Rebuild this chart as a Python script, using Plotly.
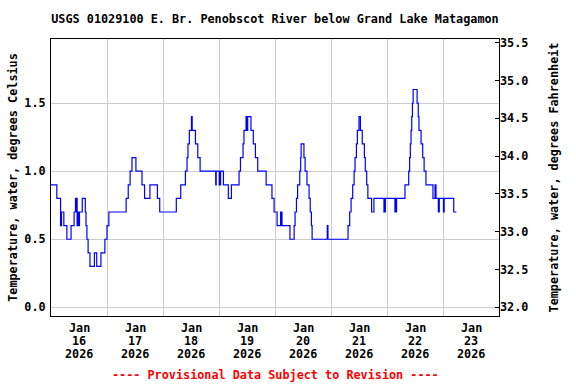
import pandas as pd
import plotly.graph_objects as go

title = "USGS 01029100 E. Br. Penobscot River below Grand Lake Matagamon"
footer = "---- Provisional Data Subject to Revision ----"
start = "2026-01-16 00:00"

# change points: hours since start, water temperature (deg C)
hours = [
    0.0, 2.5, 4.1, 4.5, 5.5, 6.8, 8.6, 9.9, 10.5, 10.8, 11.0, 11.2, 11.6, 11.9, 12.2,
    13.4, 14.7, 15.0, 15.4, 15.9, 16.7, 18.6, 19.6, 21.4, 23.1, 24.0, 24.8, 32.2, 33.1,
    33.9, 34.7, 36.4, 39.0, 40.1, 42.4, 45.6, 46.6, 53.7, 55.6, 57.6, 58.3, 58.7, 59.3,
    60.2, 60.5, 61.9, 62.9, 63.9, 70.6, 70.8, 72.1, 72.3, 72.5, 72.7, 73.9, 76.0, 77.3,
    80.6, 81.2, 82.3, 82.7, 83.6, 83.9, 84.3, 85.7, 86.7, 87.6, 88.6, 92.2, 94.7, 95.6,
    96.9, 98.4, 98.6, 98.9, 99.0, 102.4, 104.2, 104.6, 105.2, 105.7, 106.6, 107.0, 107.2,
    108.4, 108.9, 109.7, 110.6, 111.1, 111.6, 111.9, 118.4, 118.7, 127.3, 128.0, 128.6,
    129.3, 129.9, 130.3, 130.9, 131.3, 132.0, 132.6, 133.4, 134.3, 134.7, 135.3, 135.8,
    137.4, 138.4, 142.7, 142.9, 143.1, 143.3, 147.4, 147.6, 147.9, 148.1, 151.7, 153.3,
    153.7, 154.0, 154.3, 154.6, 154.9, 155.2, 156.9, 157.4, 157.7, 158.6, 159.3, 159.9,
    160.7, 163.7, 164.6, 165.0, 166.0, 166.4, 168.2, 168.5, 172.6, 173.75,
]
temp_c = [
    0.9, 0.8, 0.6, 0.7, 0.6, 0.5, 0.6, 0.7, 0.8, 0.7, 0.8, 0.6, 0.7, 0.6, 0.7,
    0.8, 0.7, 0.6, 0.5, 0.4, 0.3, 0.4, 0.3, 0.4, 0.5, 0.6, 0.7, 0.8, 0.9,
    1.0, 1.1, 1.0, 0.9, 0.8, 0.9, 0.8, 0.7, 0.8, 0.9, 1.0, 1.1, 1.2, 1.3,
    1.4, 1.3, 1.2, 1.1, 1.0, 0.9, 1.0, 0.9, 1.0, 0.9, 1.0, 0.9, 0.8, 0.9,
    1.0, 1.1, 1.2, 1.3, 1.4, 1.3, 1.4, 1.3, 1.2, 1.1, 1.0, 0.9, 0.8, 0.7,
    0.6, 0.7, 0.6, 0.7, 0.6, 0.5, 0.6, 0.7, 0.8, 0.9, 1.0, 1.1, 1.2,
    1.1, 1.0, 0.9, 0.8, 0.7, 0.6, 0.5, 0.6, 0.5, 0.6, 0.7, 0.8,
    0.9, 1.0, 1.1, 1.2, 1.3, 1.4, 1.3, 1.2, 1.1, 1.0, 0.9, 0.8,
    0.7, 0.8, 0.7, 0.8, 0.7, 0.8, 0.7, 0.8, 0.7, 0.8, 0.9, 1.0,
    1.1, 1.2, 1.3, 1.4, 1.5, 1.6, 1.5, 1.4, 1.3, 1.2, 1.1, 1.0,
    0.9, 0.8, 0.9, 0.8, 0.7, 0.8, 0.7, 0.8, 0.7, 0.7,
]

day_month = ["Jan"] * 8
day_num = ["16", "17", "18", "19", "20", "21", "22", "23"]
day_year = ["2026"] * 8
c_ticks = [0.0, 0.5, 1.0, 1.5]
f_ticks = [32.0, 32.5, 33.0, 33.5, 34.0, 34.5, 35.0, 35.5]
c_range = [-0.064, 1.971]

t0 = pd.Timestamp(start)
times = t0 + pd.to_timedelta(hours, unit="h")
temp_f = [32 + 1.8 * v for v in temp_c]
label_x = [t0 + pd.Timedelta(days=i, hours=12) for i in range(len(day_num))]
grid_x = [t0 + pd.Timedelta(days=i) for i in range(1, 8)]
x_range = [t0, t0 + pd.Timedelta(days=8)]

FONT = "DejaVu Sans Mono"
font = dict(family=FONT, size=11.8, color="black", weight="bold")

fig = go.Figure()
fig.add_trace(go.Scatter(x=times, y=temp_c, mode="lines", line=dict(color="#0000ff", width=1.2, shape="hv"),
                         showlegend=False, hoverinfo="skip"))
# same series in Fahrenheit, invisible, so the right-hand axis is drawn
fig.add_trace(go.Scatter(x=times, y=temp_f, yaxis="y2", mode="lines", opacity=0,
                         line=dict(color="#0000ff", width=1, shape="hv"),
                         showlegend=False, hoverinfo="skip"))

fig.update_layout(
    width=576, height=384,
    margin=dict(l=51, r=77, t=39, b=68),
    paper_bgcolor="white", plot_bgcolor="white",
    font=font,
    title=dict(text=title, x=0.5, xref="paper", xanchor="center",
               y=1 - 19 / 384, yref="container", yanchor="middle", font=font),
    xaxis=dict(range=x_range, tickvals=grid_x, showticklabels=False, ticks="",
               showgrid=True, gridcolor="#cccccc", gridwidth=1, zeroline=False,
               showline=True, linecolor="black", linewidth=1, mirror=True),
    yaxis=dict(range=c_range, tickvals=c_ticks, ticktext=[f"{v:.1f}" for v in c_ticks],
               ticks="", ticklabelstandoff=2, showgrid=True, gridcolor="#cccccc", gridwidth=1,
               zeroline=False, showline=True, linecolor="black", linewidth=1, mirror=True,
               tickfont=font,
               title=dict(text="Temperature, water, degrees Celsius", font=font, standoff=4)),
    yaxis2=dict(range=[32 + 1.8 * c_range[0], 32 + 1.8 * c_range[1]], overlaying="y", side="right",
                tickvals=f_ticks, ticktext=[f"{v:.1f}" for v in f_ticks],
                ticks="inside", ticklen=4, tickcolor="black", showgrid=False, zeroline=False,
                showline=False, tickfont=font,
                title=dict(text="Temperature, water, degrees Fahrenheit", font=font, standoff=22)),
)

rows = [(day_month, 11.5), (day_num, 24.5), (day_year, 38)]
for labels, dy in rows:
    for xv, txt in zip(label_x, labels):
        fig.add_annotation(x=xv, xref="x", y=0, yref="paper", yshift=-dy, text=txt,
                           showarrow=False, font=font, xanchor="center", yanchor="middle")

fig.add_annotation(x=0.5, xref="paper", y=0, yref="paper", yshift=-59, text=footer,
                   showarrow=False, font=dict(family=FONT, size=11.8, color="#ff0000", weight="bold"),
                   xanchor="center", yanchor="middle")

fig.write_html("out.html", config={"displayModeBar": False, "staticPlot": True},
               post_script="document.body.style.margin='0';document.body.style.padding='0';")
